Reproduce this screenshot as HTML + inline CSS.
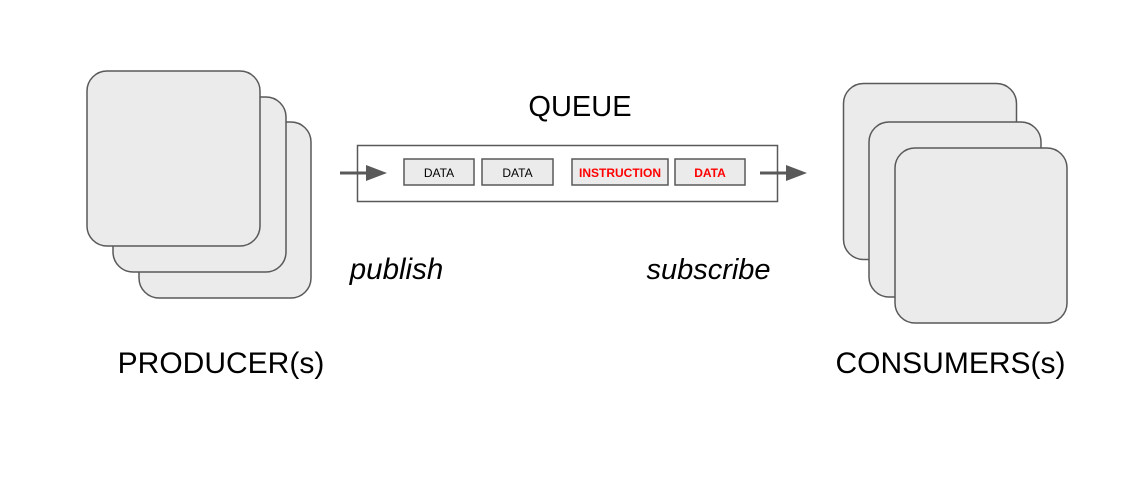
<!DOCTYPE html>
<html><head><style>html,body{margin:0;padding:0;background:#fff;}</style></head>
<body>
<svg width="1130" height="485" viewBox="0 0 1130 485" xmlns="http://www.w3.org/2000/svg" font-family="Liberation Sans, Arial, sans-serif">
<g fill="#ebebeb" stroke="#595959" stroke-width="1.5">
<rect x="139" y="122" width="172" height="176" rx="20"/>
<rect x="113" y="97" width="173" height="175" rx="20"/>
<rect x="87" y="71" width="173" height="175" rx="20"/>
<rect x="843.5" y="83.5" width="173" height="176" rx="20"/>
<rect x="869" y="122" width="172" height="175" rx="20"/>
<rect x="895" y="148" width="172" height="175" rx="20"/>
</g>
<rect x="357.5" y="145.5" width="420" height="56" fill="#fff" stroke="#595959" stroke-width="1.5"/>
<g fill="#ebebeb" stroke="#595959" stroke-width="1.5">
<rect x="404" y="159" width="70" height="26"/>
<rect x="482" y="159" width="71" height="26"/>
<rect x="572" y="159" width="96" height="26"/>
<rect x="675" y="159" width="70" height="26"/>
</g>
<g font-size="12" text-anchor="middle">
<text x="439" y="177" fill="#000">DATA</text>
<text x="517.5" y="177" fill="#000">DATA</text>
<text x="620" y="177" fill="#ff0000" font-weight="bold">INSTRUCTION</text>
<text x="710" y="177" fill="#ff0000" font-weight="bold">DATA</text>
</g>
<g stroke="#595959" stroke-width="3"><line x1="340" y1="173" x2="370" y2="173"/><line x1="760" y1="173" x2="790" y2="173"/></g>
<g fill="#595959"><polygon points="366,165 387,173 366,181"/><polygon points="786,165 807,173 786,181"/></g>
<text x="580" y="116" font-size="29" text-anchor="middle">QUEUE</text>
<text x="396.5" y="279" font-size="29.5" font-style="italic" text-anchor="middle">publish</text>
<text x="708.5" y="279" font-size="29" font-style="italic" text-anchor="middle">subscribe</text>
<text x="221" y="373" font-size="30" text-anchor="middle">PRODUCER(s)</text>
<text x="950.5" y="373" font-size="30" text-anchor="middle">CONSUMERS(s)</text>
</svg>
</body></html>
